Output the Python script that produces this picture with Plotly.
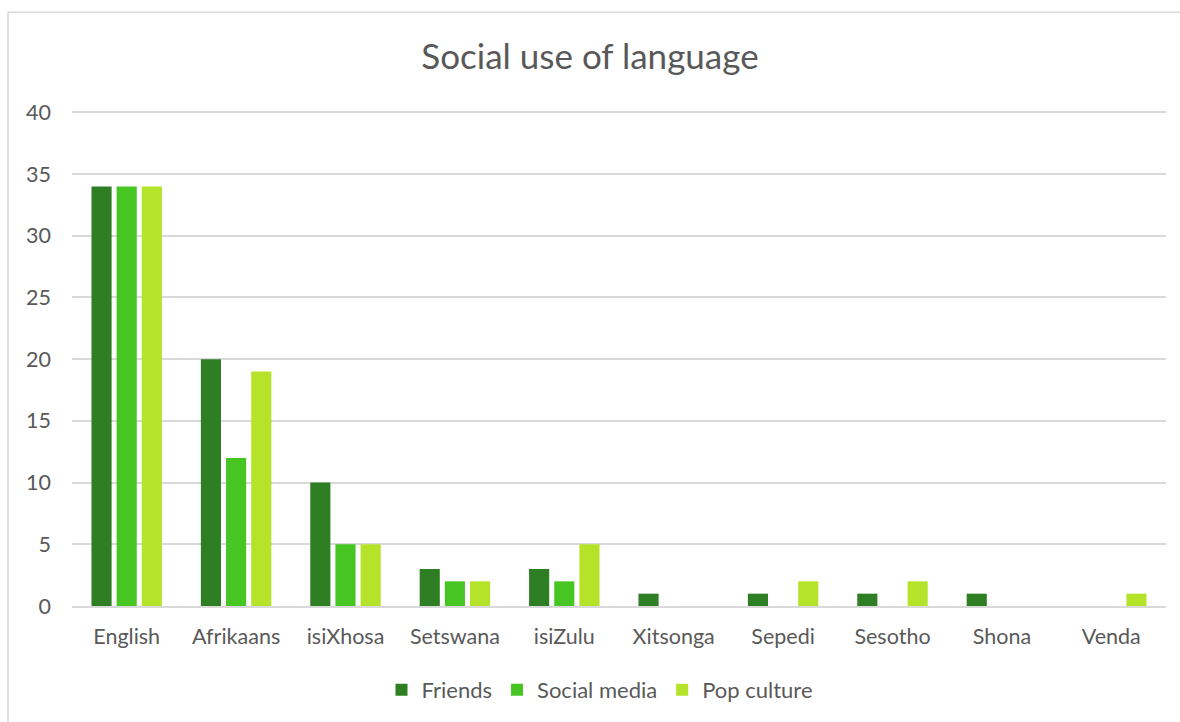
import plotly.graph_objects as go

categories = ["English", "Afrikaans", "isiXhosa", "Setswana", "isiZulu",
              "Xitsonga", "Sepedi", "Sesotho", "Shona", "Venda"]
friends = [34, 20, 10, 3, 3, 1, 1, 1, 1, 0]
social_media = [34, 12, 5, 2, 2, 0, 0, 0, 0, 0]
pop_culture = [34, 19, 5, 2, 5, 0, 2, 2, 0, 1]
series_names = ["Friends", "Social media", "Pop culture"]
colors = ["#2E7F24", "#47C623", "#B5E32A"]

W, H = 1180, 722
YMAX = 41
px_per = (607 - 112) / 40
L, R, B = 72, 14, 115
T = round(607 - YMAX * px_per)
pw, ph = W - L - R, H - T - B

fig = go.Figure()
for name, vals, c in zip(series_names, [friends, social_media, pop_culture], colors):
    fig.add_trace(go.Bar(x=categories, y=vals, name=name, marker_color=c,
                         marker_line_width=0))

font = "Lato, Open Sans, sans-serif"
fs = 21.5
fig.update_layout(
    width=W, height=H,
    margin=dict(l=L, r=R, t=T, b=B),
    paper_bgcolor="white", plot_bgcolor="white",
    barmode="group", bargap=0.31, bargroupgap=0.2,
    title=dict(text="Social use of language", x=0.5, xanchor="center",
               y=1 - 57 / H, yanchor="middle",
               font=dict(family=font, size=35, color="#595959")),
    font=dict(family=font, size=fs, color="#595959"),
    legend=dict(orientation="h", x=0.5 - 19 / pw, xanchor="center",
                y=(H - B - 690) / ph, yanchor="middle",
                font=dict(family=font, size=22, color="#595959"),
                itemwidth=30, traceorder="normal"),
    xaxis=dict(showgrid=False, showline=True, linecolor="#D9D9D9", linewidth=1.5,
               ticks="", tickfont=dict(size=fs, color="#595959"), ticklabelstandoff=10),
    yaxis=dict(range=[0, YMAX], tickvals=[0, 5, 10, 15, 20, 25, 30, 35, 40],
               showgrid=True, gridcolor="#D9D9D9",
               gridwidth=1.5, zeroline=False, showline=False, ticks="",
               tickfont=dict(size=fs, color="#595959"), ticklabelstandoff=20),
    shapes=[dict(type="rect", xref="paper", yref="paper",
                 x0=(8 - L) / pw, x1=(W + 20 - L) / pw,
                 y0=-(B + 20) / ph, y1=(H - B - 12) / ph,
                 line=dict(color="#D9D9D9", width=1.5), fillcolor="rgba(0,0,0,0)",
                 layer="below")],
)

fig.write_html("out.html")
